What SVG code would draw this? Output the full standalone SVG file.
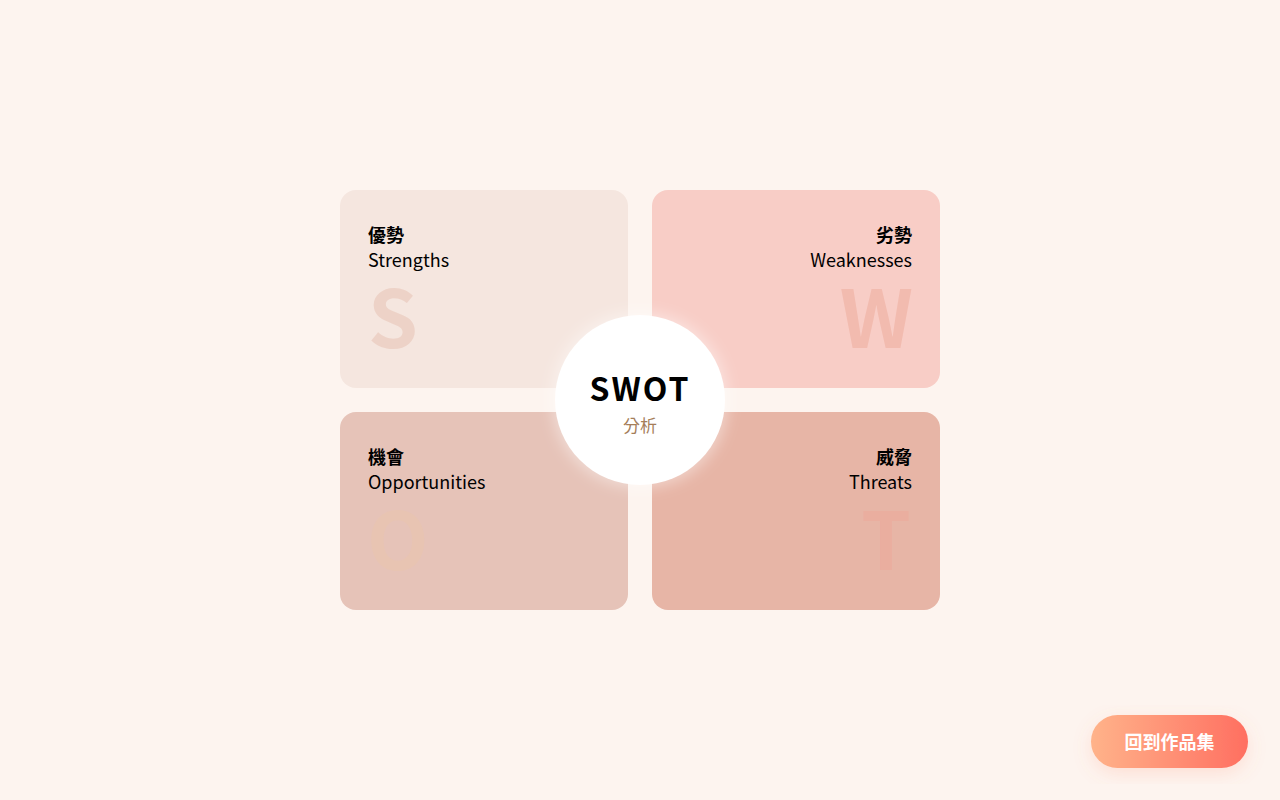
<svg xmlns="http://www.w3.org/2000/svg" width="1280" height="800" viewBox="0 0 1280 800">
<style>
.t{font-family:"Noto Sans CJK TC","Noto Sans",sans-serif;}
.zh{font-size:18px;font-weight:700;fill:#000;}
.en{font-size:18px;font-weight:400;fill:#000;}
.big{font-size:80px;font-weight:700;}
</style>
<defs>
<linearGradient id="btn" x1="0" y1="0" x2="1" y2="0">
<stop offset="0" stop-color="#FFB38A"/>
<stop offset="1" stop-color="#FF6F61"/>
</linearGradient>
<filter id="glow" x="-40%" y="-40%" width="180%" height="180%">
<feMorphology in="SourceAlpha" operator="dilate" radius="3" result="d"/>
<feGaussianBlur in="d" stdDeviation="7" result="b"/>
<feFlood flood-color="#FFFFFF" flood-opacity="0.4"/>
<feComposite operator="in" in2="b"/>
<feMerge><feMergeNode/><feMergeNode in="SourceGraphic"/></feMerge>
</filter>
<filter id="sh2" x="-30%" y="-30%" width="160%" height="160%">
<feGaussianBlur in="SourceAlpha" stdDeviation="9" result="b"/>
<feOffset in="b" dy="6" result="o"/>
<feFlood flood-color="#FF8060" flood-opacity="0.18"/>
<feComposite operator="in" in2="o"/>
<feMerge><feMergeNode/><feMergeNode in="SourceGraphic"/></feMerge>
</filter>
</defs>
<rect width="1280" height="800" fill="#FDF4EF"/>
<g id="strengths">
<rect x="340" y="190" width="288" height="198" rx="16" fill="#F5E6DF"/>
<text class="t zh" x="368" y="242">優勢</text>
<text class="t en" x="368" y="267">Strengths</text>
<text class="t big" x="368" y="348" fill="#EDD2C7">S</text>
</g>
<g id="weaknesses">
<rect x="652" y="190" width="288" height="198" rx="16" fill="#F8CDC6"/>
<text class="t zh" x="912" y="242" text-anchor="end">劣勢</text>
<text class="t en" x="912" y="267" text-anchor="end">Weaknesses</text>
<text class="t big" x="913" y="348" text-anchor="end" fill="#F2BBAF">W</text>
</g>
<g id="opportunities">
<rect x="340" y="412" width="288" height="198" rx="16" fill="#E6C3B8"/>
<text class="t zh" x="368" y="464">機會</text>
<text class="t en" x="368" y="489">Opportunities</text>
<text class="t big" x="367" y="570" fill="#E8C4B2">O</text>
</g>
<g id="threats">
<rect x="652" y="412" width="288" height="198" rx="16" fill="#E7B5A6"/>
<text class="t zh" x="912" y="464" text-anchor="end">威脅</text>
<text class="t en" x="912" y="489" text-anchor="end">Threats</text>
<text class="t big" x="911" y="570" text-anchor="end" fill="#EAAE9F">T</text>
</g>
<g id="center">
<circle cx="640" cy="400" r="85" fill="#FFFFFF" filter="url(#glow)"/>
<text class="t" x="640" y="401" text-anchor="middle" font-size="32" font-weight="700" letter-spacing="2" fill="#000">SWOT</text>
<text class="t" x="640" y="432" text-anchor="middle" font-size="17" fill="#A57E5A">分析</text>
</g>
<g id="connectors"></g>
<g id="button">
<rect x="1091" y="715" width="157" height="53" rx="26.5" fill="url(#btn)" filter="url(#sh2)"/>
<text class="t" x="1169.5" y="749" text-anchor="middle" font-size="18" font-weight="700" fill="#FFFFFF">回到作品集</text>
</g>
</svg>
